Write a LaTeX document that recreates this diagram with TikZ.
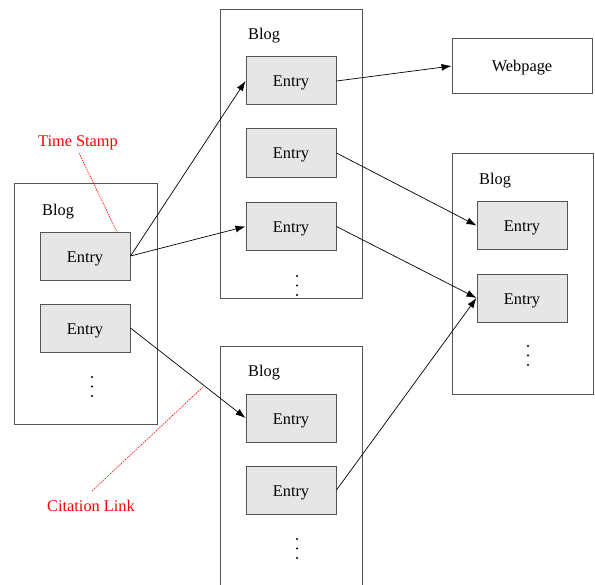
\documentclass[tikz,border=0pt]{standalone}
\usepackage{fontspec}
\setmainfont{Liberation Serif}
\usetikzlibrary{arrows.meta}
\definecolor{boxline}{HTML}{555555}
\definecolor{entryfill}{HTML}{E6E6E6}
\begin{document}
\begin{tikzpicture}[x=1bp,y=-1bp,
  every node/.style={font=\fontsize{16.4}{19}\selectfont},
  blogbox/.style={draw=boxline,line width=0.9bp,rectangle,inner sep=0pt},
  entrybox/.style={draw=boxline,fill=entryfill,line width=1bp,rectangle,inner sep=0pt,
    minimum width=90bp,minimum height=48bp,text height=12bp,text depth=0pt},
  bloglabel/.style={anchor=west,inner sep=0pt},
  link/.style={draw=black,line width=0.7bp,-{Latex[length=10bp,width=7bp]}},
  note/.style={text=red,inner sep=1pt},
  noteline/.style={draw=red,line width=0.6bp,dash pattern=on 1.5bp off 1bp},
  vdot/.style={fill=black,circle,inner sep=0pt,minimum size=2.4bp}]
\useasboundingbox (0,0) rectangle (595,585);
\clip (0,0) rectangle (595,585);

% blog containers
\node[blogbox,minimum width=143bp,minimum height=241bp] (blogL) at (85.5,303.5) {};
\node[blogbox,minimum width=142bp,minimum height=289bp] (blogT) at (291,153.5) {};
\node[blogbox,minimum width=142bp,minimum height=254bp] (blogB) at (291,473) {};
\node[blogbox,minimum width=141bp,minimum height=241bp] (blogR) at (522.5,273.5) {};
\node[blogbox,minimum width=140bp,minimum height=55bp,text height=12bp,text depth=0pt] (web) at (522,66) {Webpage};

% container titles
\node[bloglabel] (tL) at (42,211.5) {Blog};
\node[bloglabel] (tT) at (248,35.5) {Blog};
\node[bloglabel] (tB) at (248,372.5) {Blog};
\node[bloglabel] (tR) at (479,180.5) {Blog};

% entries
\node[entrybox] (L1) at (85,256) {Entry};
\node[entrybox] (L2) at (85,328) {Entry};
\node[entrybox] (T1) at (291,81) {Entry};
\node[entrybox] (T2) at (291,153) {Entry};
\node[entrybox] (T3) at (291,226.5) {Entry};
\node[entrybox] (B1) at (291,418) {Entry};
\node[entrybox] (B2) at (291,490) {Entry};
\node[entrybox] (R1) at (522,225.5) {Entry};
\node[entrybox] (R2) at (522,298) {Entry};

% vertical ellipses
\foreach \n/\x/\y in {dL/92/377, dT/297/276, dB/297/539, dR/528/346}{
  \node[vdot] (\n a) at (\x,\y) {};
  \node[vdot] (\n b) at (\x,\y+9.5) {};
  \node[vdot] (\n c) at (\x,\y+19) {};
}

% citation links
\draw[link] (L1.east) -- (T1.west);
\draw[link] (L1.east) -- (T3.west);
\draw[link] (L2.east) -- (B1.west);
\draw[link] (T1.east) -- (web.west);
\draw[link] (T2.east) -- (R1.west);
\draw[link] (T3.east) -- (R2.west);
\draw[link] (B2.east) -- (R2.west);

% annotations
\node[note] (ts) at (78,142.5) {Time Stamp};
\coordinate (tsend) at (117,232);
\draw[noteline] (79,153) -- (tsend);
\node[note] (cl) at (91,505.5) {Citation Link};
\coordinate (clend) at (203,387);
\draw[noteline] (92,491) -- (clend);
\end{tikzpicture}
\end{document}
